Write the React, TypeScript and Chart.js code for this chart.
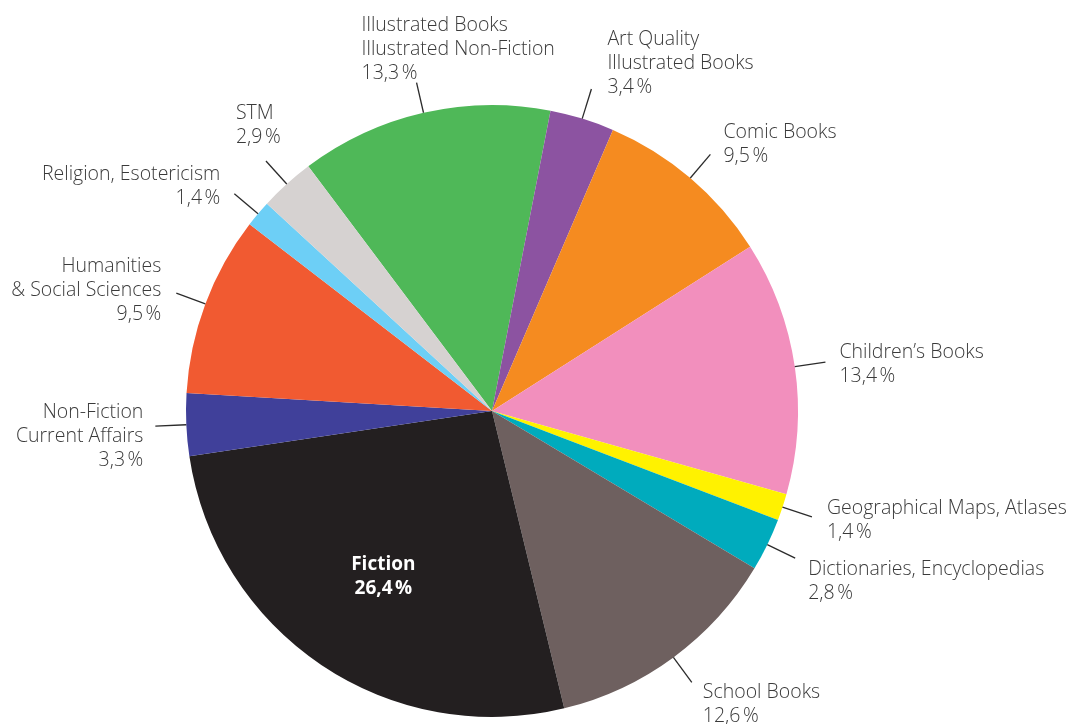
import React, { useEffect, useRef } from "react";
import { Chart, registerables } from "chart.js";

Chart.register(...registerables);

const categories: string[][] = [
  ["Illustrated Books", "Illustrated Non-Fiction"],
  ["Art Quality", "Illustrated Books"],
  ["Comic Books"],
  ["Children’s Books"],
  ["Geographical Maps, Atlases"],
  ["Dictionaries, Encyclopedias"],
  ["School Books"],
  ["Fiction"],
  ["Non-Fiction", "Current Affairs"],
  ["Humanities", "& Social Sciences"],
  ["Religion, Esotericism"],
  ["STM"],
];
const shares: number[] = [13.3, 3.4, 9.5, 13.4, 1.4, 2.8, 12.6, 26.4, 3.3, 9.5, 1.4, 2.9];
const colors: string[] = [
  "#4fb858", "#8c53a1", "#f58b20", "#f28fbd", "#fff200", "#00abbd",
  "#6e605f", "#231f20", "#40409a", "#f15a31", "#6dcff6", "#d6d2d1",
];

// label layout: offset of text from leader end, alignment, inside flag
const labelLayout = [
  { dx: -55, dy: -51.5, align: "left" },
  { dx: 16, dy: -44, align: "left" },
  { dx: 13, dy: -16, align: "left" },
  { dx: 14, dy: -4, align: "left" },
  { dx: 15, dy: -3, align: "left" },
  { dx: 13, dy: 17, align: "left" },
  { dx: 11, dy: 16, align: "left" },
  { inside: true },
  { dx: -12, dy: -8, align: "right" },
  { dx: -15, dy: -21, align: "right" },
  { dx: -14, dy: -14, align: "right" },
  { dx: -30, dy: -42, align: "left" },
] as any[];

const fmt = (v: number) => v.toFixed(1).replace(".", ",") + "\u202F%";

const FONT = '"Open Sans", "Noto Sans", sans-serif';

const labelPlugin = {
  id: "outLabels",
  afterDatasetsDraw(chart: any) {
    const ctx = chart.ctx;
    const meta = chart.getDatasetMeta(0);
    meta.data.forEach((arc: any, i: number) => {
      const { x, y, startAngle, endAngle, outerRadius } = arc.getProps(
        ["x", "y", "startAngle", "endAngle", "outerRadius"], true
      );
      const mid = (startAngle + endAngle) / 2;
      const cos = Math.cos(mid);
      const sin = Math.sin(mid);
      const lay = labelLayout[i];
      const lines = [...categories[i], fmt(shares[i])];
      ctx.save();
      if (lay.inside) {
        const r = outerRadius * 0.66;
        const cx = x + cos * r + 4;
        const cy = y + sin * r - 2;
        ctx.fillStyle = "#ffffff";
        ctx.font = `bold 19px ${FONT}`;
        ctx.textAlign = "center";
        ctx.textBaseline = "middle";
        ctx.fillText(lines[0], cx, cy - 12);
        ctx.fillText(lines[1], cx, cy + 12);
      } else {
        const x0 = x + cos * outerRadius;
        const y0 = y + sin * outerRadius;
        const x1 = x + cos * (outerRadius + 31);
        const y1 = y + sin * (outerRadius + 31);
        ctx.strokeStyle = "#2b2b2b";
        ctx.lineWidth = 1.3;
        ctx.beginPath();
        ctx.moveTo(x0, y0);
        ctx.lineTo(x1, y1);
        ctx.stroke();
        ctx.fillStyle = "#3a3a3a";
        ctx.font = `300 19.5px ${FONT}`;
        ctx.textAlign = lay.align;
        ctx.textBaseline = "alphabetic";
        lines.forEach((t: string, k: number) => {
          ctx.fillText(t, x1 + lay.dx, y1 + lay.dy + k * 24);
        });
      }
      ctx.restore();
    });
  },
};

export default function App() {
  const ref = useRef<HTMLCanvasElement | null>(null);
  useEffect(() => {
    document.body.style.margin = "0";
    const chart = new Chart(ref.current as HTMLCanvasElement, {
      type: "pie",
      data: {
        labels: categories.map((c) => c.join(" ")),
        datasets: [
          {
            data: shares,
            backgroundColor: colors,
            borderWidth: 0,
          },
        ],
      },
      options: {
        responsive: false,
        animation: false,
        rotation: -36.9,
        layout: { padding: { left: 186, right: 269, top: 105, bottom: 7 } },
        plugins: { legend: { display: false }, tooltip: { enabled: false } },
      },
      plugins: [labelPlugin],
    });
    return () => chart.destroy();
  }, []);
  return (
    <div style={{ position: "fixed", left: 0, top: 0, width: 1067, height: 724, background: "#fff" }}>
      <canvas ref={ref} width={1067} height={724} style={{ width: 1067, height: 724 }} />
    </div>
  );
}
